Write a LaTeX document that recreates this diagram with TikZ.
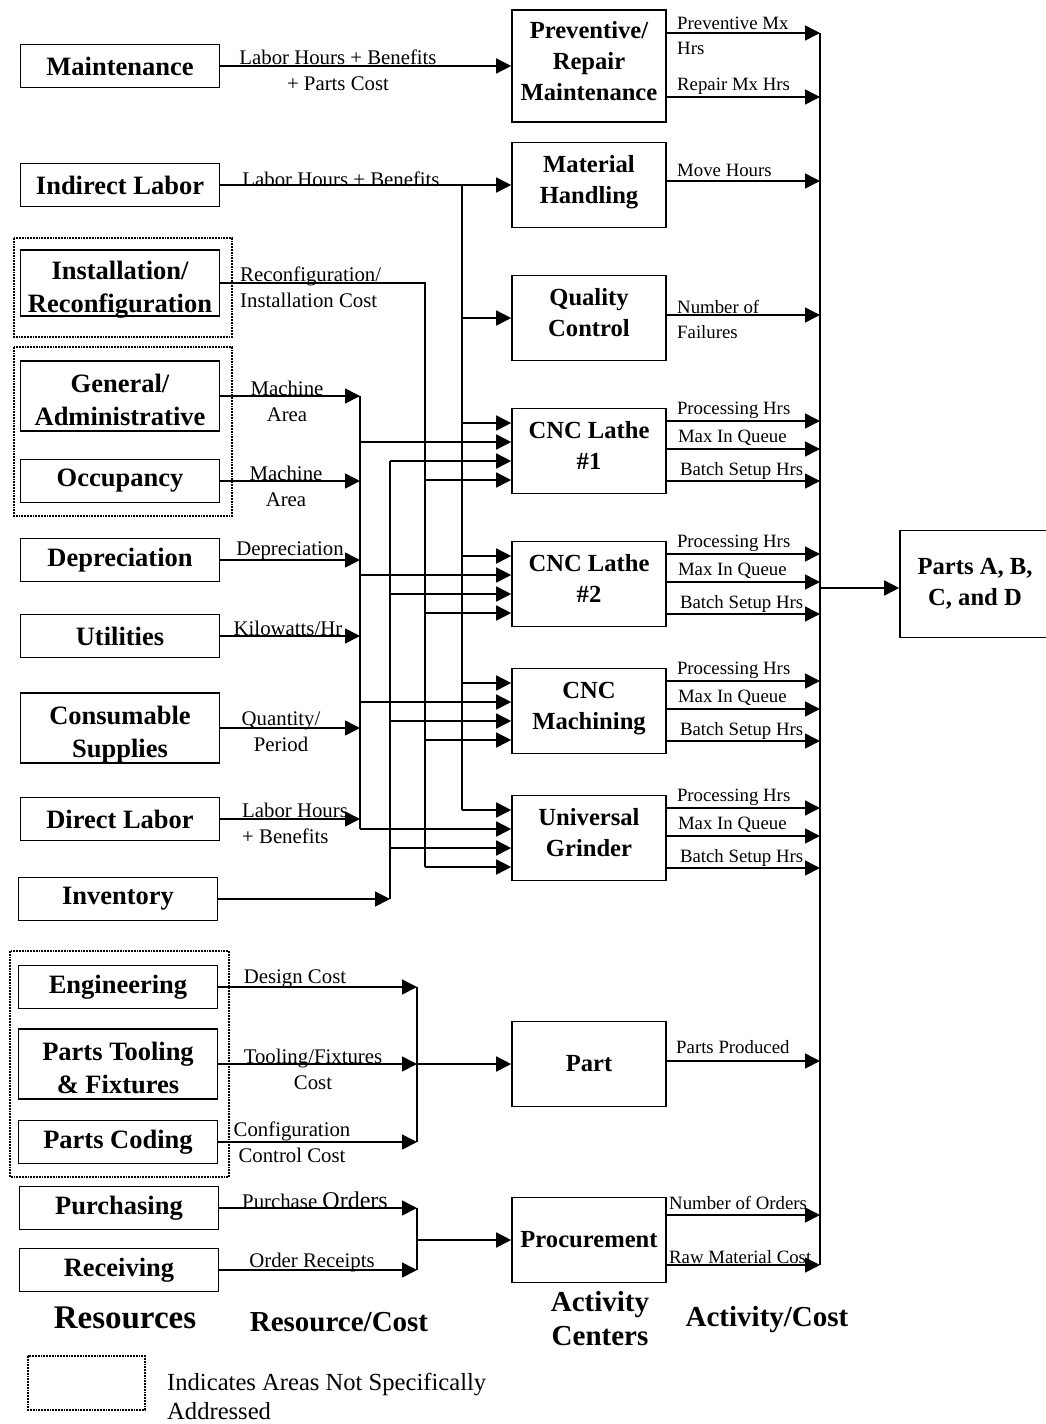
\documentclass[tikz,border=0pt]{standalone}
\usepackage{fontspec}
\setmainfont{Liberation Serif}
\usetikzlibrary{arrows.meta}

\begin{document}
\begin{tikzpicture}[x=1pt,y=-1pt,
  res_node/.style={draw,line width=1.6pt,minimum width=199pt,minimum height=43pt,inner sep=1pt,align=center,font=\bfseries\fontsize{26.5}{33}\selectfont},
  res_two/.style={res_node,minimum height=70pt,text height=60pt,text depth=1pt},
  act_node/.style={draw,line width=1.6pt,minimum width=154pt,minimum height=85pt,inner sep=1pt,align=center,font=\bfseries\fontsize{24.6}{31}\selectfont},
  act_two/.style={act_node,text height=37pt,text depth=1pt},
  cost_lbl/.style={inner sep=0pt,align=center,font=\fontsize{20.8}{26}\selectfont},
  act_lbl/.style={inner sep=0pt,align=left,anchor=west,font=\fontsize{18.8}{25}\selectfont},
  head_lbl/.style={inner sep=0pt,align=center,font=\bfseries\fontsize{29}{34}\selectfont},
  flow/.style={line width=1.6pt,-{Triangle[length=15pt,width=15pt]}},
  wire/.style={line width=1.6pt},
  area_box/.style={line width=1.8pt,densely dotted}]

\useasboundingbox (0,0) rectangle (1045,1424);

    \node[res_node] (r1) at (120,66) {Maintenance};
    \node[res_node] (r2) at (120,185) {Indirect Labor};
    \node[res_two,minimum height=66pt] (r3) at (120,283) {Installation/\\Reconfiguration};
    \node[res_two] (r4) at (120,396) {General/\\Administrative};
    \node[res_node] (r5) at (120,481) {Occupancy};
    \node[res_node] (r6) at (120,560) {Depreciation};
    \node[res_node] (r7) at (120,636) {Utilities};
    \node[res_two] (r8) at (120,728) {Consumable\\Supplies};
    \node[res_node] (r9) at (120,819) {Direct Labor};
    \node[res_node] (r10) at (118,899) {Inventory};
    \node[res_node] (r11) at (118,987) {Engineering};
    \node[res_two] (r12) at (118,1064) {Parts Tooling\\\& Fixtures};
    \node[res_node] (r13) at (118,1142) {Parts Coding};
    \node[res_node] (r14) at (119,1208) {Purchasing};
    \node[res_node] (r15) at (119,1270) {Receiving};

    \node[act_node,minimum height=112pt,text height=70pt,text depth=1pt] (a1) at (589,66) {Preventive/\\Repair\\Maintenance};
    \node[act_two] (a2) at (589,185) {Material\\Handling};
    \node[act_two] (a3) at (589,318) {Quality\\Control};
    \node[act_two] (a4) at (589,451) {CNC Lathe\\\#1};
    \node[act_two] (a5) at (589,584) {CNC Lathe\\\#2};
    \node[act_two] (a6) at (589,711) {CNC\\Machining};
    \node[act_two] (a7) at (589,838) {Universal\\Grinder};
    \node[act_node] (a8) at (589,1064) {Part};
    \node[act_node] (a9) at (589,1240) {Procurement};
    \node[act_node,minimum width=150pt,minimum height=107pt] (p) at (975,584) {Parts A, B,\\C, and D};

    \coordinate (b1) at (462,185);
    \coordinate (b2) at (425,283);
    \coordinate (b3) at (360,396);
    \coordinate (b4) at (390,899);
    \coordinate (b5) at (417,1064);
    \coordinate (b6) at (417,1240);
    \coordinate (c1) at (820,33);
    \coordinate (c2) at (820,1265);
    \coordinate (c3) at (820,588);

    \draw[flow] (r1) -- (a1);
    \draw[flow] (r2) -- (a2);
    \draw[wire] (b1) -- ([yshift=28pt]a7.west -| b1);
    \draw[flow] (b1 |- a3) -- (a3);
    \draw[wire] (r3) -- (b2) -- ([yshift=-29pt]a7.west -| b2);
    \draw[flow] (r4) -- (b3);
    \draw[wire] (b3) -- ([yshift=9pt]a7.west -| b3);
    \draw[flow] (r5) -- (r5 -| b3);
    \draw[flow] (r6) -- (r6 -| b3);
    \draw[flow] (r7) -- (r7 -| b3);
    \draw[flow] (r8) -- (r8 -| b3);
    \draw[flow] (r9) -- (r9 -| b3);
    \draw[flow] (r10) -- (b4);
    \draw[wire] (b4) -- ([yshift=-10pt]a4.west -| b4);

    \foreach \n in {a4,a5,a6,a7}{
      \draw[flow] ([yshift=28pt]\n.west -| b1) -- ([yshift=28pt]\n.west);
      \draw[flow] ([yshift=9pt]\n.west -| b3) -- ([yshift=9pt]\n.west);
      \draw[flow] ([yshift=-10pt]\n.west -| b4) -- ([yshift=-10pt]\n.west);
      \draw[flow] ([yshift=-29pt]\n.west -| b2) -- ([yshift=-29pt]\n.west);
      \draw[flow] ([yshift=30pt]\n.east) -- ([yshift=30pt]\n.east -| c1);
      \draw[flow] ([yshift=2pt]\n.east) -- ([yshift=2pt]\n.east -| c1);
      \draw[flow] ([yshift=-30pt]\n.east) -- ([yshift=-30pt]\n.east -| c1);
      \node[act_lbl] (\n p) at ([shift={(10pt,41pt)}]\n.east) {Processing Hrs};
      \node[act_lbl] (\n q) at ([shift={(11pt,13pt)}]\n.east) {Max In Queue};
      \node[act_lbl] (\n b) at ([shift={(13pt,-20pt)}]\n.east) {Batch Setup Hrs};
    }

    \draw[flow] (r11) -- (r11 -| b5);
    \draw[flow] (r12) -- (b5);
    \draw[flow] (r13) -- (r13 -| b5);
    \draw[wire] (r11 -| b5) -- (r13 -| b5);
    \draw[flow] (b5) -- (a8);
    \draw[flow] (r14) -- (r14 -| b6);
    \draw[flow] (r15) -- (r15 -| b6);
    \draw[wire] (r14 -| b6) -- (r15 -| b6);
    \draw[flow] (b6) -- (a9);

    \draw[wire] (c1) -- (c2);
    \draw[flow] ([yshift=33pt]a1.east) -- ([yshift=33pt]a1.east -| c1);
    \draw[flow] ([yshift=-31pt]a1.east) -- ([yshift=-31pt]a1.east -| c1);
    \draw[flow] ([yshift=4pt]a2.east) -- ([yshift=4pt]a2.east -| c1);
    \draw[flow] ([yshift=3pt]a3.east) -- ([yshift=3pt]a3.east -| c1);
    \draw[flow] ([yshift=3pt]a8.east) -- ([yshift=3pt]a8.east -| c1);
    \draw[flow] ([yshift=25pt]a9.east) -- ([yshift=25pt]a9.east -| c1);
    \draw[flow] ([yshift=-25pt]a9.east) -- (c2);
    \draw[flow] (c3) -- (c3 -| p.west);

    \node[cost_lbl] (l1) at (338,70) {Labor Hours + Benefits\\+ Parts Cost};
    \node[cost_lbl] (l2) at (341,179) {Labor Hours + Benefits};
    \node[cost_lbl,align=left,anchor=west] (l3) at (240,287) {Reconfiguration/\\Installation Cost};
    \node[cost_lbl] (l4) at (287,401) {Machine\\Area};
    \node[cost_lbl] (l5) at (286,486) {Machine\\Area};
    \node[cost_lbl] (l6) at (290,551) {Depreciation};
    \node[cost_lbl] (l7) at (288,628) {Kilowatts/Hr};
    \node[cost_lbl] (l8) at (281,732) {Quantity/\\Period};
    \node[cost_lbl,align=left,anchor=west] (l9) at (242,823) {Labor Hours\\+ Benefits};
    \node[cost_lbl] (l10) at (295,979) {Design Cost};
    \node[cost_lbl] (l11) at (313,1069) {Tooling/Fixtures\\Cost};
    \node[cost_lbl] (l12) at (292,1142) {Configuration\\Control Cost};
    \node[cost_lbl] (l13) at (315,1200) {Purchase {\fontsize{24}{26}\selectfont Orders}};
    \node[cost_lbl] (l14) at (312,1262) {Order Receipts};

    \node[act_lbl] (l15) at (677,36) {Preventive Mx\\Hrs};
    \node[act_lbl] (l16) at (677,86) {Repair Mx Hrs};
    \node[act_lbl] (l17) at (677,170) {Move Hours};
    \node[act_lbl] (l18) at (677,319) {Number of\\Failures};
    \node[act_lbl] (l19) at (676,1047) {Parts Produced};
    \node[act_lbl] (l20) at (669,1203) {Number of Orders};
    \node[act_lbl] (l21) at (669,1257) {Raw Material Cost};

    \node[head_lbl,font=\bfseries\fontsize{33}{36}\selectfont] (h1) at (125,1318) {Resources};
    \node[head_lbl] (h2) at (339,1322) {Resource/Cost};
    \node[head_lbl] (h3) at (600,1319) {Activity\\Centers};
    \node[head_lbl] (h4) at (767,1320) {Activity/Cost};

    \draw[area_box] (14,238) rectangle (232,337);
    \draw[area_box] (14,347) rectangle (232,516);
    \draw[area_box] (10,951) rectangle (229,1177);
    \draw[area_box] (28,1356) rectangle (145,1410);
    \node[act_lbl,font=\fontsize{24.6}{29}\selectfont] (l22) at (167,1396) {Indicates Areas Not Specifically\\Addressed};

\end{tikzpicture}
\end{document}
